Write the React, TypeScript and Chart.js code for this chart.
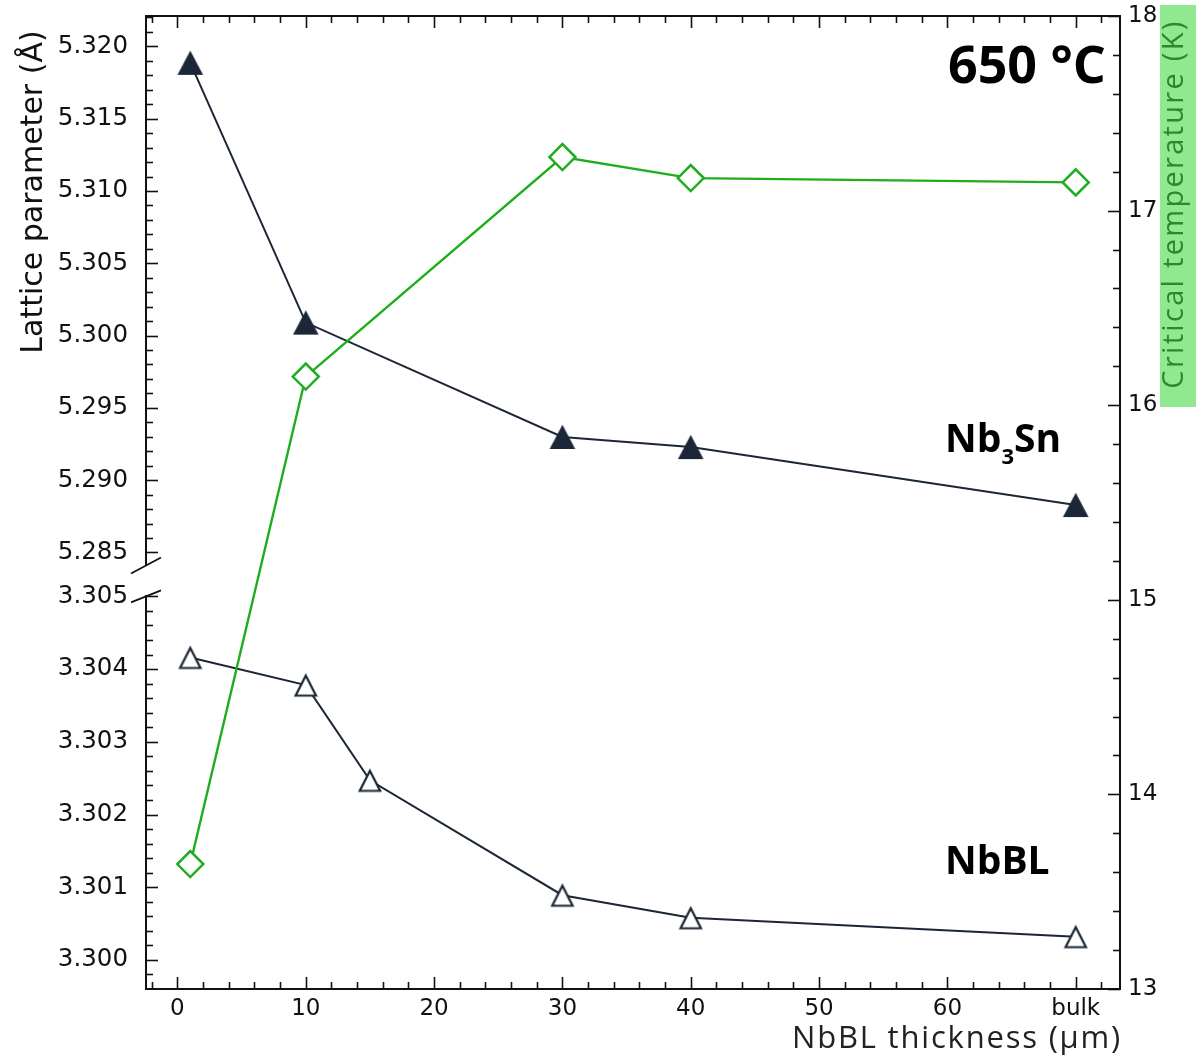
import React, { useEffect, useRef } from 'react';
import { Chart, registerables } from 'chart.js';

Chart.register(...registerables);

// ---- data ----
const THICKNESS_NB3SN = [1, 10, 30, 40, 70];
const LATTICE_NB3SN = [5.31886, 5.3009, 5.29299, 5.29229, 5.28828];

const THICKNESS_NBBL = [1, 10, 15, 30, 40, 70];
const LATTICE_NBBL = [3.30416, 3.30378, 3.30247, 3.30089, 3.30058, 3.30032];

const THICKNESS_TC = [1, 10, 30, 40, 70];
const CRITICAL_TEMP = [13.642, 16.147, 17.275, 17.167, 17.145];

const X_TICKS = [0, 10, 20, 30, 40, 50, 60, 70];
const X_TICK_LABELS = ['0', '10', '20', '30', '40', '50', '60', 'bulk'];
const Y_TOP_TICKS = [5.285, 5.29, 5.295, 5.3, 5.305, 5.31, 5.315, 5.32];
const Y_BOT_TICKS = [3.3, 3.301, 3.302, 3.303, 3.304, 3.305];
const Y_RIGHT_TICKS = [13, 14, 15, 16, 17, 18];

const X_RANGE = [-2.45, 73.45];
const Y_TOP_RANGE = [5.2841, 5.3221];
const Y_BOT_RANGE = [3.2996, 3.305];
const Y_RIGHT_RANGE = [13, 18];

const X_TITLE = 'NbBL thickness (µm)';
const LEFT_TITLE = 'Lattice parameter (Å)';
const RIGHT_TITLE = 'Critical temperature (K)';
const TEMP_LABEL = '650 °C';

const NAVY = '#1b2636';
const GREEN = '#1fad1f';
const AXIS = '#111111';

const decor = {
  id: 'decor',
  afterDraw(chart: any) {
    const ctx: any = chart.ctx;
    const { left, right, top, bottom } = chart.chartArea;
    const s = chart.scales;
    ctx.save();
    ctx.strokeStyle = AXIS;
    ctx.lineCap = 'butt';

    // top spine
    ctx.lineWidth = 2;
    ctx.beginPath();
    ctx.moveTo(left - 1, top);
    ctx.lineTo(right + 1, top);
    ctx.stroke();

    const line = (x1: number, y1: number, x2: number, y2: number) => {
      ctx.beginPath();
      ctx.moveTo(x1, y1);
      ctx.lineTo(x2, y2);
      ctx.stroke();
    };

    ctx.lineWidth = 1.6;
    // x ticks (bottom and top, inward)
    for (let v = -2; v <= 72; v += 2) {
      const px = Math.round(s.x.getPixelForValue(v)) + 0.5;
      const len = v % 10 === 0 ? 12 : 7;
      line(px, bottom, px, bottom - len);
      line(px, top, px, top + len);
    }
    // upper left ticks
    for (let k = 5284; k <= 5323; k++) {
      const v = k / 1000;
      if (v < Y_TOP_RANGE[0] || v > Y_TOP_RANGE[1]) continue;
      const py = Math.round(s.yTop.getPixelForValue(v)) + 0.5;
      line(left, py, left + (k % 5 === 0 ? 12 : 7), py);
    }
    // lower left ticks
    for (let k = 32998; k <= 33050; k += 2) {
      const v = k / 10000;
      const py = Math.round(s.yBot.getPixelForValue(v)) + 0.5;
      line(left, py, left + (k % 10 === 0 ? 12 : 7), py);
    }
    // right ticks
    for (let k = 65; k <= 90; k++) {
      const v = k / 5;
      const py = Math.round(s.yR.getPixelForValue(v)) + 0.5;
      line(right, py, right - (k % 5 === 0 ? 12 : 7), py);
    }

    // break marks
    ctx.lineWidth = 1.8;
    const upEnd = s.yTop.bottom;
    const lowStart = s.yBot.top;
    line(left - 15, upEnd + 8, left + 15, upEnd - 8);
    line(left - 15, lowStart + 6, left + 15, lowStart - 6);

    // left title
    ctx.save();
    ctx.translate(41.5, 192);
    ctx.rotate(-Math.PI / 2);
    ctx.font = '30px "DejaVu Sans"';
    ctx.textAlign = 'center';
    ctx.textBaseline = 'alphabetic';
    ctx.fillStyle = '#111';
    ctx.fillText(LEFT_TITLE, 0, 0);
    ctx.restore();

    // right title with highlight
    ctx.fillStyle = '#90e890';
    ctx.fillRect(1160, 5, 40, 402);
    ctx.save();
    ctx.translate(1183, 204);
    ctx.rotate(-Math.PI / 2);
    ctx.font = '29px "Open Sans"';
    ctx.letterSpacing = '2.3px';
    ctx.textAlign = 'center';
    ctx.textBaseline = 'alphabetic';
    ctx.fillStyle = '#2a8a2a';
    ctx.fillText(RIGHT_TITLE, 0, 0);
    ctx.restore();

    // x-axis title
    ctx.save();
    ctx.font = '31px "Open Sans"';
    ctx.letterSpacing = '1.8px';
    ctx.textAlign = 'right';
    ctx.textBaseline = 'alphabetic';
    ctx.fillStyle = '#222';
    ctx.fillText(X_TITLE, right + 2, 1048);
    ctx.restore();

    // annotations
    ctx.fillStyle = '#000';
    ctx.textBaseline = 'alphabetic';
    ctx.textAlign = 'right';
    ctx.font = 'bold 52px "Open Sans"';
    ctx.fillText(TEMP_LABEL, right - 14, 83);

    ctx.textAlign = 'left';
    ctx.font = 'bold 39px "Open Sans"';
    let x = 945;
    ctx.fillText('Nb', x, 452);
    x += ctx.measureText('Nb').width;
    ctx.font = 'bold 22px "Open Sans"';
    ctx.fillText('3', x, 464);
    x += ctx.measureText('3').width;
    ctx.font = 'bold 39px "Open Sans"';
    ctx.fillText('Sn', x, 452);

    ctx.fillText('NbBL', 945, 874);
    ctx.restore();
  },
};

const zeroPad = (sc: any) => {
  sc.paddingTop = 0;
  sc.paddingBottom = 0;
  sc.paddingLeft = 0;
  sc.paddingRight = 0;
};

export default function App() {
  const ref = useRef<HTMLCanvasElement>(null);

  useEffect(() => {
    const canvas = ref.current;
    if (!canvas) return;

    const mk = (draw: (g: CanvasRenderingContext2D) => void) => {
      const c = document.createElement('canvas');
      c.width = 28;
      c.height = 28;
      const g = c.getContext('2d')!;
      draw(g);
      return c;
    };
    const filledTri = mk((g) => {
      g.beginPath();
      g.moveTo(14, 1.8);
      g.lineTo(26.8, 26.1);
      g.lineTo(1.2, 26.1);
      g.closePath();
      g.fillStyle = NAVY;
      g.fill();
    });
    const openTri = mk((g) => {
      g.beginPath();
      g.moveTo(14, 4.5);
      g.lineTo(24.2, 24.5);
      g.lineTo(3.8, 24.5);
      g.closePath();
      g.fillStyle = '#fff';
      g.fill();
      g.lineWidth = 2.2;
      g.lineJoin = 'miter';
      g.strokeStyle = NAVY;
      g.stroke();
    });

    const tickFont = { family: '"DejaVu Sans"', size: 23 };
    const leftTickFont = { family: '"DejaVu Sans"', size: 24.5 };
    const noGrid = { display: true, drawOnChartArea: false, drawTicks: false };
    const border = { color: AXIS, width: 2 };

    const chart = new Chart(canvas, {
      type: 'line',
      data: {
        datasets: [
          {
            label: 'Tc',
            data: THICKNESS_TC.map((x, i) => ({ x, y: CRITICAL_TEMP[i] })),
            yAxisID: 'yR',
            borderColor: GREEN,
            borderWidth: 2.4,
            pointStyle: 'rectRot',
            pointRadius: 13,
            pointBorderWidth: 2.5,
            pointBackgroundColor: '#fff',
            pointBorderColor: GREEN,
          },
          {
            label: 'NbBL',
            data: THICKNESS_NBBL.map((x, i) => ({ x, y: LATTICE_NBBL[i] })),
            yAxisID: 'yBot',
            borderColor: NAVY,
            borderWidth: 2,
            pointStyle: openTri as any,
            pointRadius: 14,
          },
          {
            label: 'Nb3Sn',
            data: THICKNESS_NB3SN.map((x, i) => ({ x, y: LATTICE_NB3SN[i] })),
            yAxisID: 'yTop',
            borderColor: NAVY,
            borderWidth: 2,
            pointStyle: filledTri as any,
            pointRadius: 14,
          },
        ],
      },
      options: {
        animation: false,
        responsive: false,
        devicePixelRatio: 1,
        layout: { padding: { top: 16, left: 0, right: 0, bottom: 0 } },
        plugins: { legend: { display: false }, tooltip: { enabled: false } },
        scales: {
          x: {
            type: 'linear',
            position: 'bottom',
            min: X_RANGE[0],
            max: X_RANGE[1],
            afterBuildTicks: (sc: any) => {
              sc.ticks = X_TICKS.map((v) => ({ value: v }));
            },
            ticks: {
              autoSkip: false,
              maxRotation: 0,
              padding: 6,
              color: AXIS,
              font: tickFont,
              callback: (v: any) => X_TICK_LABELS[X_TICKS.indexOf(Number(v))] ?? '',
            },
            grid: noGrid,
            border,
            title: { display: false, text: X_TITLE },
            afterFit: (sc: any) => {
              sc.height = 66;
              zeroPad(sc);
            },
          },
          yBot: {
            type: 'linear',
            position: 'left',
            stack: 'left',
            stackWeight: 392.6,
            weight: 1,
            min: Y_BOT_RANGE[0],
            max: Y_BOT_RANGE[1],
            afterBuildTicks: (sc: any) => {
              sc.ticks = Y_BOT_TICKS.map((v) => ({ value: v }));
            },
            ticks: {
              padding: 18,
              color: AXIS,
              font: leftTickFont,
              callback: (v: any) => Number(v).toFixed(3),
            },
            grid: noGrid,
            border,
            afterFit: (sc: any) => {
              sc.width = 146;
              zeroPad(sc);
            },
          },
          yGap: {
            type: 'linear',
            position: 'left',
            stack: 'left',
            stackWeight: 30.9,
            weight: 2,
            display: false,
            min: 0,
            max: 1,
            afterFit: (sc: any) => zeroPad(sc),
          },
          yTop: {
            type: 'linear',
            position: 'left',
            stack: 'left',
            stackWeight: 549.5,
            weight: 3,
            min: Y_TOP_RANGE[0],
            max: Y_TOP_RANGE[1],
            afterBuildTicks: (sc: any) => {
              sc.ticks = Y_TOP_TICKS.map((v) => ({ value: v }));
            },
            ticks: {
              padding: 18,
              color: AXIS,
              font: leftTickFont,
              callback: (v: any) => Number(v).toFixed(3),
            },
            grid: noGrid,
            border,
            afterFit: (sc: any) => {
              sc.width = 146;
              zeroPad(sc);
            },
          },
          yR: {
            type: 'linear',
            position: 'right',
            min: Y_RIGHT_RANGE[0],
            max: Y_RIGHT_RANGE[1],
            afterBuildTicks: (sc: any) => {
              sc.ticks = Y_RIGHT_TICKS.map((v) => ({ value: v }));
            },
            ticks: {
              padding: 8,
              color: AXIS,
              font: tickFont,
              callback: (v: any) => String(v),
            },
            grid: noGrid,
            border,
            afterFit: (sc: any) => {
              sc.width = 76;
              zeroPad(sc);
            },
          },
        },
      } as any,
      plugins: [decor],
    });

    return () => chart.destroy();
  }, []);

  return (
    <div style={{ position: 'absolute', left: 0, top: 0, width: 1196, height: 1055, background: '#fff' }}>
      <canvas ref={ref} width={1196} height={1055} style={{ display: 'block' }} />
    </div>
  );
}
